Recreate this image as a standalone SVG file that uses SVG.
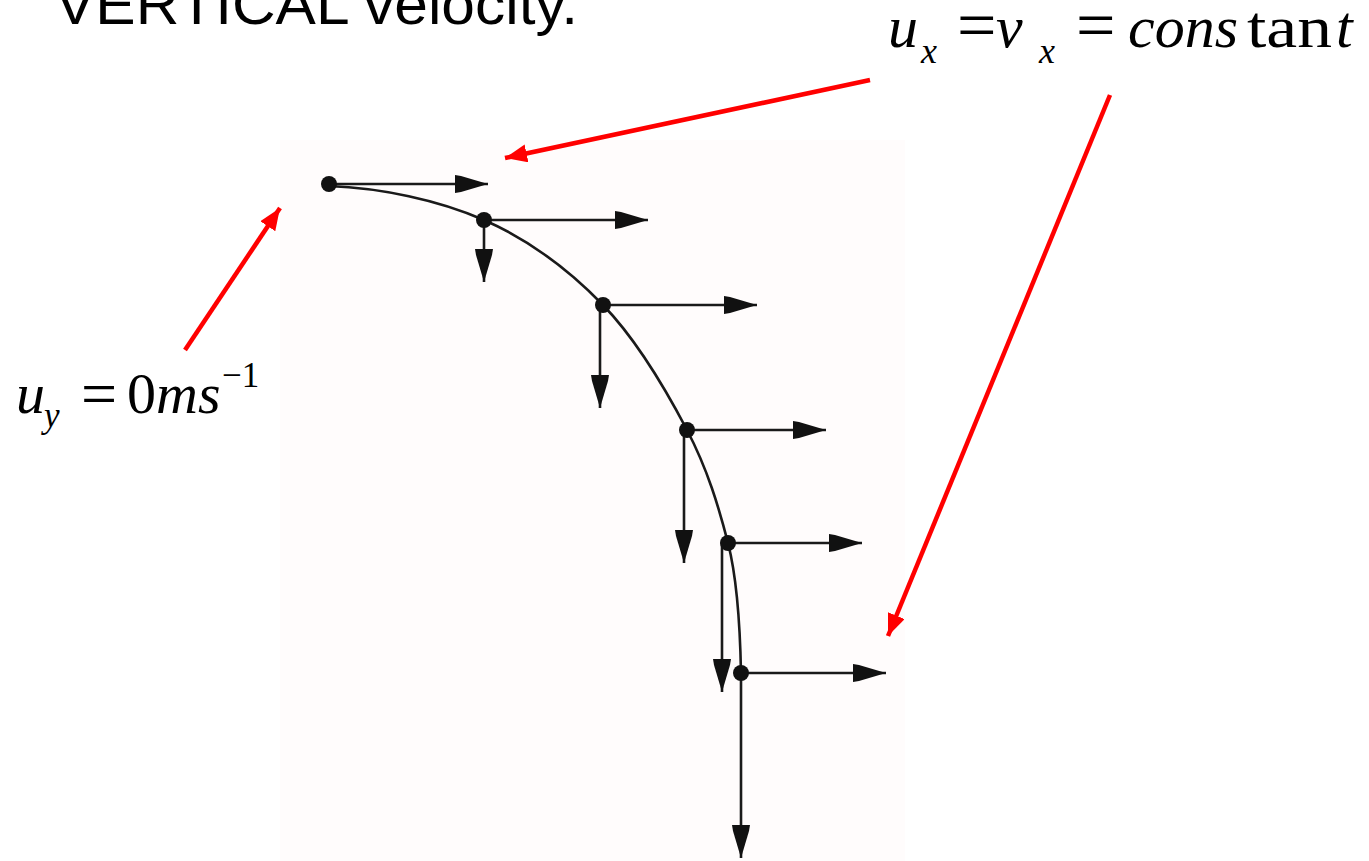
<svg xmlns="http://www.w3.org/2000/svg" width="1369" height="861" viewBox="0 0 1369 861">
<defs>
<style>
.title{font-family:"Liberation Sans",Arial,sans-serif;font-size:58px;fill:#000}
.m{font-family:"Liberation Serif","Times New Roman",serif;fill:#000}
.it{font-style:italic}
.blk{stroke:#1a1a1a;stroke-width:2.6;fill:none}
.red{stroke:#ff0000;stroke-width:4.5;fill:none}
.dot{fill:#111}
</style>
<marker id="ah" markerUnits="userSpaceOnUse" markerWidth="40" markerHeight="24" refX="33" refY="11" orient="auto">
<path d="M0,2 L6,3 L33,11 L6,19 L0,20 Z" fill="#111"/>
</marker>
<marker id="rh" markerUnits="userSpaceOnUse" markerWidth="26" markerHeight="20" refX="22" refY="9" orient="auto">
<path d="M0,0 L22,9 L0,18 Z" fill="#ff0000"/>
</marker>
</defs>
<rect x="280" y="140" width="625" height="721" fill="#fffcfc"/>
<g id="title"><text class="title" x="55" y="24" textLength="523" lengthAdjust="spacingAndGlyphs">VERTICAL velocity.</text></g>
<g id="label-ux">
<text class="m it" x="888" y="47" font-size="60">u</text>
<text class="m it" x="921" y="63" font-size="36">x</text>
<text class="m" x="957" y="49" font-size="70">=</text>
<text class="m it" x="996" y="47" font-size="60">v</text>
<text class="m it" x="1039" y="63" font-size="36">x</text>
<text class="m" x="1076" y="49" font-size="70">=</text>
<text class="m it" x="1128" y="47" font-size="60">cons</text>
<text class="m" x="1247" y="47" font-size="60" textLength="85" lengthAdjust="spacingAndGlyphs">tan</text>
<text class="m it" x="1336" y="47" font-size="60">t</text>
</g>
<g id="label-uy">
<text class="m it" x="16" y="413" font-size="58">u</text>
<text class="m it" x="44" y="427" font-size="35">y</text>
<text class="m" x="81" y="415" font-size="64">=</text>
<text class="m" x="127" y="413" font-size="58">0</text>
<text class="m it" x="156" y="413" font-size="58">ms</text>
<text class="m" x="222" y="387" font-size="35">−1</text>
</g>
<g id="trajectory">
<path class="blk" d="M329,186 C380.7,188 438.3,199.8 484,220 C529.7,240.2 569.2,270 603,305 C636.8,340 666.2,390.3 687,430 C707.8,469.7 719,508 728,543 C737,578 740,620 741,673"/>
</g>
<g id="connectors">
<line class="blk" x1="329" y1="184" x2="488" y2="184" marker-end="url(#ah)"/>
<line class="blk" x1="484" y1="220" x2="648" y2="220" marker-end="url(#ah)"/>
<line class="blk" x1="603" y1="305" x2="757" y2="305" marker-end="url(#ah)"/>
<line class="blk" x1="687" y1="430" x2="826" y2="430" marker-end="url(#ah)"/>
<line class="blk" x1="728" y1="543" x2="862" y2="543" marker-end="url(#ah)"/>
<line class="blk" x1="741" y1="673" x2="886" y2="673" marker-end="url(#ah)"/>
<line class="blk" x1="484" y1="220" x2="484" y2="282" marker-end="url(#ah)"/>
<line class="blk" x1="600" y1="305" x2="600" y2="408" marker-end="url(#ah)"/>
<line class="blk" x1="684" y1="430" x2="684" y2="563" marker-end="url(#ah)"/>
<line class="blk" x1="722" y1="543" x2="722" y2="692" marker-end="url(#ah)"/>
<line class="blk" x1="741" y1="673" x2="741" y2="858" marker-end="url(#ah)"/>
<line class="red" x1="870" y1="80" x2="505" y2="158" marker-end="url(#rh)"/>
<line class="red" x1="1110" y1="95" x2="888" y2="636" marker-end="url(#rh)"/>
<line class="red" x1="185" y1="350" x2="280" y2="208" marker-end="url(#rh)"/>
</g>
<g id="points">
<circle class="dot" cx="329" cy="184" r="8"/>
<circle class="dot" cx="484" cy="220" r="8"/>
<circle class="dot" cx="603" cy="305" r="8"/>
<circle class="dot" cx="687" cy="430" r="8"/>
<circle class="dot" cx="728" cy="543" r="8"/>
<circle class="dot" cx="741" cy="673" r="8"/>
</g>
</svg>
